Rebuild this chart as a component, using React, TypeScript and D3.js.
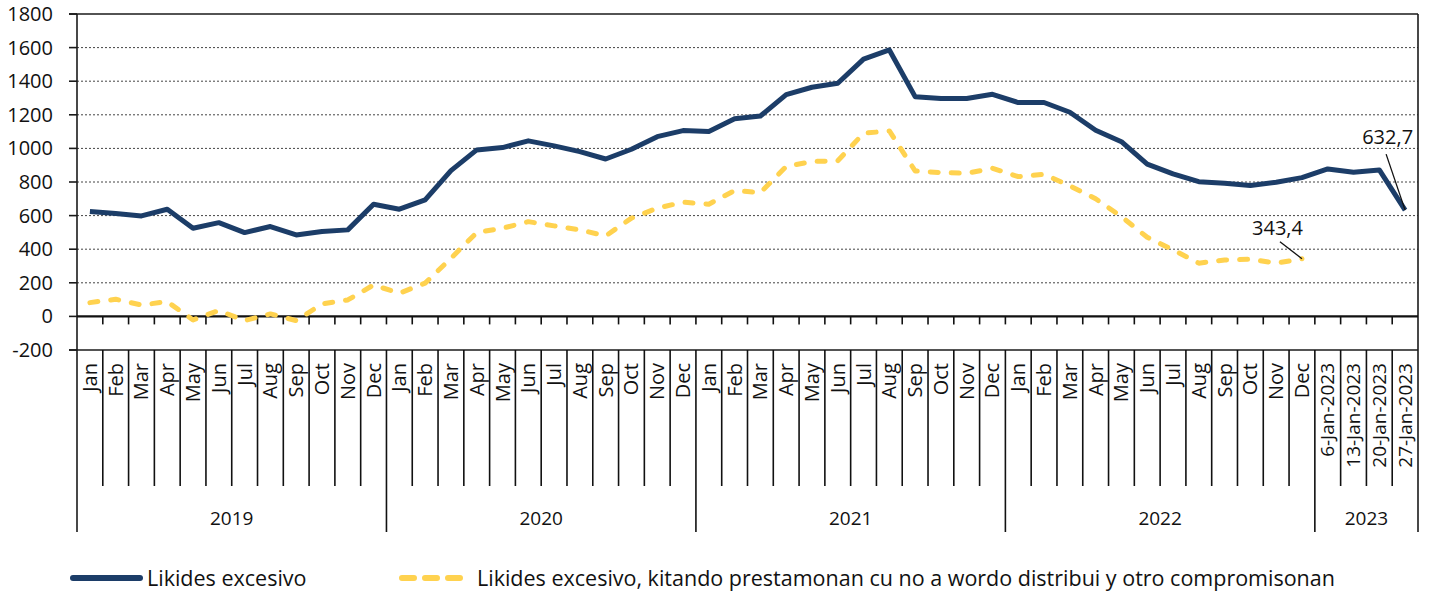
import React, { useEffect, useRef } from "react";
import * as d3 from "d3";

// categories: 4 years of months + weekly points of Jan 2023
const years = ["2019", "2020", "2021", "2022", "2023"];
const months = ["Jan", "Feb", "Mar", "Apr", "May", "Jun", "Jul", "Aug", "Sep", "Oct", "Nov", "Dec"];
const weeks2023 = ["6-Jan-2023", "13-Jan-2023", "20-Jan-2023", "27-Jan-2023"];

const excess = [
    624, 612, 598, 638, 525, 558, 499, 535, 485, 505, 515, 668,
    638, 693, 868, 991, 1005, 1045, 1015, 981, 937, 995, 1070, 1106,
    1100, 1176, 1193, 1320, 1364, 1388, 1531, 1586, 1308, 1297, 1297, 1322,
    1273, 1273, 1215, 1108, 1040, 906, 848, 802, 793, 779, 799, 826,
    878, 858, 872, 632.7,
];

const excessAdj = [
    82, 102, 68, 88, -21, 35, -25, 15, -25, 74, 98, 187,
    138, 198, 346, 499, 525, 564, 539, 515, 479, 585, 644, 680,
    668, 749, 737, 892, 922, 926, 1090, 1104, 866, 856, 852, 882,
    832, 846, 777, 700, 594, 471, 396, 317, 336, 340, 317, 343.4,
];

const yTicks = [-200, 0, 200, 400, 600, 800, 1000, 1200, 1400, 1600, 1800];
const legendLabels = [
    "Likides excesivo",
    "Likides excesivo, kitando prestamonan cu no a wordo distribui y otro compromisonan",
];

const BLUE = "#1c3d68";
const YELLOW = "#ffd24f";
const FONT = "'Open Sans', sans-serif";

type Cat = { key: string; year: string; label: string };

const categories: Cat[] = [];
years.forEach((y) => {
    const labels = y === "2023" ? weeks2023 : months;
    labels.forEach((l) => categories.push({ key: `${y}-${l}`, year: y, label: l }));
});

export default function App() {
    const svgRef = useRef<SVGSVGElement>(null);

    useEffect(() => {
        const width = 1430;
        const height = 594;
        const left = 77, right = 1418, top = 14, bottom = 350;
        const monthLineEnd = 486, yearLineEnd = 532;

        const svg = d3.select(svgRef.current).attr("width", width).attr("height", height);
        svg.selectAll("*").remove();

        const x = d3.scaleBand<string>()
            .domain(categories.map((c) => c.key))
            .range([left, right])
            .padding(0);
        const y = d3.scaleLinear().domain([-200, 1800]).range([bottom, top]);
        const cx = (i: number) => x(categories[i].key)! + x.bandwidth() / 2;

        // dotted gridlines
        svg.append("g")
            .selectAll("line")
            .data(yTicks.filter((t) => t > 0 && t < 1800))
            .join("line")
            .attr("x1", left).attr("x2", right)
            .attr("y1", (d) => y(d)).attr("y2", (d) => y(d))
            .attr("stroke", "#444")
            .attr("stroke-width", 1)
            .attr("stroke-dasharray", "2,2");

        // frame
        const frame = svg.append("g").attr("stroke", "#1a1a1a").attr("stroke-width", 1.6);
        frame.append("line").attr("x1", left - 8).attr("x2", right).attr("y1", y(1800)).attr("y2", y(1800));
        frame.append("line").attr("x1", right).attr("x2", right).attr("y1", top).attr("y2", yearLineEnd);
        frame.append("line").attr("x1", left).attr("x2", left).attr("y1", top).attr("y2", yearLineEnd);
        frame.append("line").attr("x1", left - 8).attr("x2", right).attr("y1", y(-200)).attr("y2", y(-200));

        // y ticks and labels
        const yAxis = svg.append("g");
        yAxis.selectAll("line")
            .data(yTicks)
            .join("line")
            .attr("x1", left - 8).attr("x2", left)
            .attr("y1", (d) => y(d)).attr("y2", (d) => y(d))
            .attr("stroke", "#1a1a1a").attr("stroke-width", 1.6);
        yAxis.selectAll("text")
            .data(yTicks)
            .join("text")
            .attr("x", 53)
            .attr("y", (d) => y(d))
            .attr("dy", "0.35em")
            .attr("text-anchor", "end")
            .style("font-family", FONT)
            .style("font-size", "20px")
            .attr("fill", "#111")
            .text((d) => String(d));

        // zero line with ticks
        svg.append("line")
            .attr("x1", left).attr("x2", right)
            .attr("y1", y(0)).attr("y2", y(0))
            .attr("stroke", "#111").attr("stroke-width", 2.2);
        const boundaries = categories.slice(1).map((c) => x(c.key)!);
        svg.append("g")
            .selectAll("line")
            .data(boundaries)
            .join("line")
            .attr("x1", (d) => d).attr("x2", (d) => d)
            .attr("y1", y(0)).attr("y2", y(0) + 8)
            .attr("stroke", "#111").attr("stroke-width", 1.6);

        // category dividers below the plot
        svg.append("g")
            .selectAll("line")
            .data(categories.slice(1))
            .join("line")
            .attr("x1", (d) => x(d.key)!).attr("x2", (d) => x(d.key)!)
            .attr("y1", bottom)
            .attr("y2", (d, i) => (categories[i].year !== d.year ? yearLineEnd : monthLineEnd))
            .attr("stroke", "#111").attr("stroke-width", 1.6);

        // category labels
        svg.append("g")
            .selectAll("text")
            .data(categories)
            .join("text")
            .attr("transform", (d, i) => `translate(${cx(i)},${bottom + 13}) rotate(-90)`)
            .attr("text-anchor", "end")
            .attr("dy", "0.35em")
            .style("font-family", FONT)
            .style("font-size", (d) => (d.year === "2023" ? "19px" : "20px"))
            .attr("fill", "#111")
            .text((d) => d.label);

        // year labels
        svg.append("g")
            .selectAll("text")
            .data(years)
            .join("text")
            .attr("x", (yr) => {
                const idx = categories.map((c, i) => (c.year === yr ? i : -1)).filter((i) => i >= 0);
                const a = x(categories[idx[0]].key)!;
                const b = x(categories[idx[idx.length - 1]].key)! + x.bandwidth();
                return (a + b) / 2;
            })
            .attr("y", 525)
            .attr("text-anchor", "middle")
            .style("font-family", FONT)
            .style("font-size", "19px")
            .attr("fill", "#111")
            .text((d) => d);

        // series
        const line = d3.line<number>()
            .x((d, i) => cx(i))
            .y((d) => y(d));

        svg.append("path")
            .datum(excessAdj)
            .attr("d", line)
            .attr("fill", "none")
            .attr("stroke", YELLOW)
            .attr("stroke-width", 5)
            .attr("stroke-linecap", "round")
            .attr("stroke-linejoin", "round")
            .attr("stroke-dasharray", "8,13");

        svg.append("path")
            .datum(excess)
            .attr("d", line)
            .attr("fill", "none")
            .attr("stroke", BLUE)
            .attr("stroke-width", 5)
            .attr("stroke-linejoin", "round");

        // annotations
        const last = excess.length - 1;
        const px = cx(last), py = y(excess[last]);
        svg.append("line")
            .attr("x1", px - 19).attr("y1", py - 56)
            .attr("x2", px).attr("y2", py)
            .attr("stroke", "#111").attr("stroke-width", 1.3);
        svg.append("text")
            .attr("x", px + 8).attr("y", py - 66)
            .attr("text-anchor", "end")
            .style("font-family", FONT)
            .style("font-size", "20px")
            .attr("fill", "#111")
            .text(String(excess[last]).replace(".", ","));

        const lastA = excessAdj.length - 1;
        const qx = cx(lastA), qy = y(excessAdj[lastA]);
        svg.append("line")
            .attr("x1", qx - 22).attr("y1", qy - 17)
            .attr("x2", qx).attr("y2", qy)
            .attr("stroke", "#111").attr("stroke-width", 1.3);
        svg.append("text")
            .attr("x", qx + 1).attr("y", qy - 24)
            .attr("text-anchor", "end")
            .style("font-family", FONT)
            .style("font-size", "20px")
            .attr("fill", "#111")
            .text(String(excessAdj[lastA]).replace(".", ","));

        // legend
        const lg = svg.append("g");
        lg.append("line")
            .attr("x1", 73).attr("x2", 140).attr("y1", 578).attr("y2", 578)
            .attr("stroke", BLUE).attr("stroke-width", 6).attr("stroke-linecap", "round");
        lg.append("text")
            .attr("x", 147).attr("y", 578).attr("dy", "0.35em")
            .style("font-family", FONT).style("font-size", "21.5px").attr("fill", "#111")
            .text(legendLabels[0]);
        lg.append("line")
            .attr("x1", 402).attr("x2", 461).attr("y1", 578).attr("y2", 578)
            .attr("stroke", YELLOW).attr("stroke-width", 6).attr("stroke-linecap", "round")
            .attr("stroke-dasharray", "12,11");
        lg.append("text")
            .attr("x", 477).attr("y", 578).attr("dy", "0.35em")
            .style("font-family", FONT).style("font-size", "21.5px").attr("fill", "#111")
            .text(legendLabels[1]);
    }, []);

    return (
        <svg ref={svgRef} style={{ position: "absolute", left: 0, top: 0, background: "#fff" }} />
    );
}
